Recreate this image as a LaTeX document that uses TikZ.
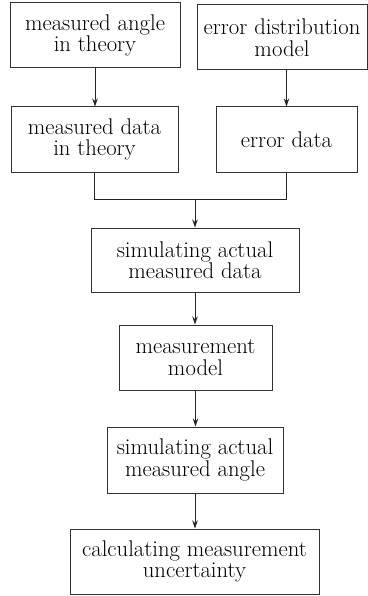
\documentclass[tikz,border=0pt]{standalone}
\usetikzlibrary{arrows.meta}
\begin{document}
\begin{tikzpicture}[x = 1pt, y = -1pt,
        stepbox/.style = {draw = black!80, line width = 1pt, inner sep = 0pt, align = center,
            font = \fontsize{22.7}{21.5}\selectfont, text = black},
        flow/.style = {draw = black!85, line width = 1pt, -{Stealth[length = 8pt, width = 5.5pt]}},
        joint/.style = {draw = black!85, line width = 1pt}]
        \useasboundingbox (0, 0) rectangle (367, 596);
        \node[stepbox, minimum width = 170pt, minimum height = 65pt] (angle) at (95, 35.5) {measured angle\\in theory};
        \node[stepbox, minimum width = 170pt, minimum height = 65pt] (errmodel) at (282, 37.5) {error distribution\\model};
        \node[stepbox, minimum width = 167pt, minimum height = 65pt] (data) at (94.5, 139.5) {measured data\\in theory};
        \node[stepbox, minimum width = 141pt, minimum height = 65pt] (errdata) at (286.5, 139.5) {error data};
        \node[stepbox, minimum width = 208pt, minimum height = 64pt] (simdata) at (195, 260) {simulating actual\\measured data};
        \node[stepbox, minimum width = 153pt, minimum height = 65pt] (model) at (195.5, 357.5) {measurement\\model};
        \node[stepbox, minimum width = 176pt, minimum height = 66pt] (simangle) at (195, 460) {simulating actual\\measured angle};
        \node[stepbox, minimum width = 249pt, minimum height = 65pt] (uncert) at (194.5, 561.5) {calculating measurement\\uncertainty};
        \coordinate (join) at (195, 199);
        \draw[flow] (angle.south) -- (angle.south |- data.north);
        \draw[flow] (errmodel.south -| errdata.north) -- (errdata.north);
        \draw[joint] (data.south) |- (join);
        \draw[joint] (errdata.south) |- (join);
        \draw[flow] (join) -- (join |- simdata.north);
        \draw[flow] (simdata.south) -- (simdata.south |- model.north);
        \draw[flow] (model.south) -- (model.south |- simangle.north);
        \draw[flow] (simangle.south) -- (simangle.south |- uncert.north);
    \end{tikzpicture}
\end{document}
